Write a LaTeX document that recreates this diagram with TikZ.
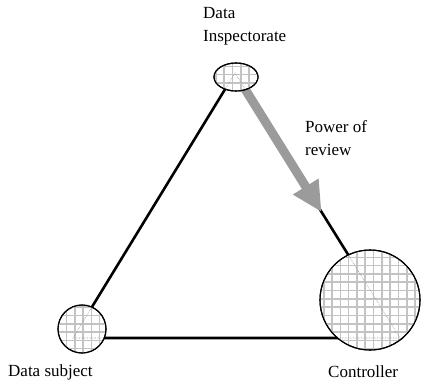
\documentclass[tikz,border=0pt]{standalone}
\usepackage{fontspec}
\setmainfont{Liberation Serif}
\usetikzlibrary{arrows.meta,calc,shapes.geometric}
\definecolor{arrowgrey}{RGB}{155,155,155}
\definecolor{meshgrey}{RGB}{195,195,195}
\definecolor{traceline}{RGB}{150,150,150}
\tikzset{
  edge/.style={line width=2.6pt, black},
  party/.style={draw=black, line width=1.1pt, fill=white},
  mesh/.style={meshgrey, line width=1.6pt},
  trace/.style={traceline, line width=0.6pt, densely dotted},
  label/.style={font=\fontsize{17}{23}\selectfont, align=left, anchor=west, inner sep=0pt},
  review/.style={arrowgrey, line width=9pt, -{Triangle[length=30pt,width=28pt]}}
}
\begin{document}
\begin{tikzpicture}[x=1pt,y=-1pt]
\useasboundingbox (0,0) rectangle (427,387);
% triangle corners
\coordinate (top) at (235,73);
\coordinate (left) at (73,338);
\coordinate (right) at (400,338);
% relationships
\draw[edge] (top) -- (left) -- (right) -- cycle;
% power of review arrow along the right edge
\coordinate (arrstart) at ($(top)!0.06!(right)$);
\coordinate (arrtip) at ($(top)!0.5245!(right)$);
\draw[review] (arrstart) -- (arrtip);
% parties
\node[party, ellipse, minimum width=44pt, minimum height=28pt, inner sep=0pt] (insp) at (236,77) {};
\node[party, circle, minimum size=100pt, inner sep=0pt] (ctrl) at (370,300) {};
\node[party, circle, minimum size=48pt, inner sep=0pt] (subj) at (82,329) {};
% mesh fill inside each party
\begin{scope}
  \clip (236,77) ellipse [x radius=21.5pt, y radius=13.5pt];
  \draw[mesh, step=8.3pt] (200,50) grid (280,100);
  \draw[trace] (left) -- (top) -- (right);
\end{scope}
\begin{scope}
  \clip (370,300) circle [radius=49.5pt];
  \draw[mesh, step=8.3pt] (312,240) grid (432,360);
  \draw[trace] (top) -- (right) -- (left);
\end{scope}
\begin{scope}
  \clip (82,329) circle [radius=23.5pt];
  \draw[mesh, step=8.3pt] (50,300) grid (112,360);
  \draw[trace] (top) -- (left) -- (right);
\end{scope}
\draw[black, line width=1.1pt] (236,77) ellipse [x radius=22pt, y radius=14pt];
\draw[black, line width=1.1pt] (370,300) circle [radius=50pt];
\draw[black, line width=1.1pt] (82,329) circle [radius=24pt];
% labels
\node[label] (insplabel) at (203,26) {Data\\Inspectorate};
\node[label] (revlabel) at (305,138) {Power of\\review};
\node[label] (subjlabel) at (8,372) {Data subject};
\node[label] (ctrllabel) at (328,372) {Controller};
\end{tikzpicture}
\end{document}
